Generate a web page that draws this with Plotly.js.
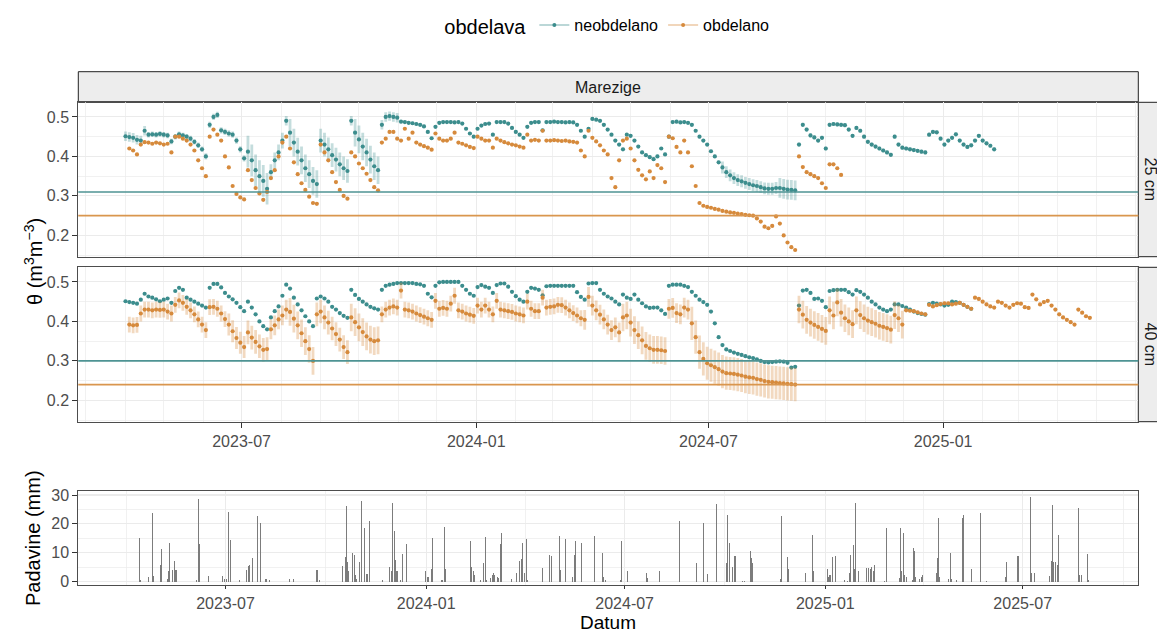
<!DOCTYPE html>
<html>
<head>
<meta charset="utf-8">
<script src="https://cdn.plot.ly/plotly-3.0.1.min.js"></script>
<style>
  html, body { margin: 0; padding: 0; background: #ffffff; }
  #chart { width: 1157px; height: 632px; }
</style>
</head>
<body>
<div id="chart"></div>
<script>
// Soil water content (daily means, every third day) at Marezige, 2023-04-01 onwards
const seriesStart = '2023-04-01';
const stepDays = 3;

const treatments = ['neobdelano', 'obdelano'];
const depths = ['25 cm', '40 cm'];

// 25 cm, neobdelano
const neobdelano25 = [
  .451,.449,.447,.442,.44,.465,.455,.456,.455,.457,
  .455,.453,.438,.45,.456,.453,.45,.445,.437,.428,
  .418,.40,.48,.50,.505,.466,.462,.458,.455,.44,
  .418,.395,.412,.39,.365,.35,.338,.318,.36,.39,
  .41,.44,.49,.46,.435,.412,.39,.37,.355,.338,
  .33,.44,.43,.418,.403,.392,.38,.37,.363,.49,
  .46,.443,.425,.41,.392,.375,.365,.48,.50,.502,
  .50,.498,.488,.487,.485,.484,.482,.48,.476,.462,
  .446,.475,.485,.487,.487,.487,.486,.487,.483,.47,
  .458,.45,.47,.478,.482,.483,.455,.487,.487,.487,
  .483,.472,.462,.455,.447,.475,.485,.487,.487,.466,
  .487,.487,.488,.487,.487,.486,.487,.486,.48,.465,
  .45,.47,.495,.493,.49,.48,.468,.455,.44,.43,
  .418,.455,.452,.44,.425,.41,.403,.398,.393,.40,
  .42,.405,.45,.487,.488,.486,.487,.485,.48,.465,
  .45,.44,.43,.413,.40,.385,.372,.36,.352,.345,
  .34,.337,.333,.33,.327,.325,.322,.319,.318,.318,
  .32,.32,.318,.316,.315,.314,.43,.48,.468,.453,
  .448,.44,.447,.42,.48,.482,.481,.48,.479,.468,
  .452,.472,.465,.45,.437,.43,.425,.42,.415,.41,
  .404,.45,.43,.422,.42,.418,.416,.414,.412,.41,
  .455,.462,.461,.445,.43,.44,.447,.456,.44,.43,
  .424,.428,.44,.452,.44,.433,.427,.418
];
const neobdelano25Err = [
  .012,.012,.012,.012,.012,.012,.007,.007,.007,.007,
  .007,.007,.007,.007,.007,.007,.007,.007,.007,.007,
  .007,.008,.008,.008,.008,.008,.008,.008,.008,.008,
  .008,.008,.04,.04,.04,.04,.04,.04,.02,.02,
  .02,.02,.012,.035,.035,.035,.035,.035,.035,.035,
  .035,.03,.03,.03,.03,.03,.03,.03,.03,.012,
  .035,.035,.035,.035,.035,.035,.035,.012,.012,.012,
  .012,.012,.004,.004,.004,.004,.004,.004,.004,.004,
  .004,.004,.004,.004,.004,.004,.004,.004,.004,.004,
  .004,.004,.004,.004,.004,.004,.004,.004,.004,.004,
  .004,.004,.004,.004,.004,.004,.004,.004,.004,.004,
  .004,.004,.004,.004,.004,.004,.004,.004,.004,.004,
  .004,.004,.004,.004,.004,.004,.004,.004,.004,.004,
  .004,.004,.004,.004,.004,.004,.004,.004,.004,.004,
  .004,.004,.004,.004,.004,.004,.004,.004,.004,.004,
  .004,.004,.004,.004,.004,.004,.015,.015,.015,.015,
  .015,.015,.015,.015,.015,.015,.015,.015,.015,.015,
  .015,.025,.025,.025,.025,.025,.005,.005,.005,.005,
  .005,.005,.005,.005,.005,.005,.005,.005,.005,.005,
  .005,.005,.005,.005,.005,.005,.005,.005,.005,.005,
  .005,.005,.005,.005,.005,.005,.005,.005,.005,.005,
  .005,.005,.005,.005,.005,.005,.005,.005,.005,.005,
  .005,.005,.005,.005,.005,.005,.005,.005
];

// 25 cm, obdelano
const obdelano25 = [
  null,.42,.415,.405,.43,.436,.435,.432,.435,.433,
  .43,.432,.41,.45,.45,.445,.44,.43,.415,.39,
  .37,.35,.45,.468,.455,.44,.40,.372,.325,.305,
  .296,.291,.365,.34,.32,.306,.29,.31,.345,.365,
  .40,.435,.45,.42,.385,.355,.332,.315,.298,.282,
  .28,.43,.41,.39,.36,.335,.315,.30,.293,.41,
  .40,.382,.37,.356,.34,.322,.314,.435,.445,.462,
  .462,.445,.44,.47,.445,.46,.435,.43,.426,.422,
  .417,.458,.445,.44,.44,.445,.46,.435,.432,.428,
  .424,.421,.45,.445,.44,.44,.422,.445,.44,.436,
  .433,.43,.428,.425,.422,.455,.44,.442,.44,.465,
  .44,.44,.441,.44,.439,.44,.438,.437,.435,.415,
  .40,.465,.447,.438,.428,.415,.405,.345,.322,.39,
  .44,.445,.42,.39,.366,.352,.342,.362,.345,.378,
  .37,.335,.45,.446,.424,.41,.44,.41,.375,.325,
  .282,.275,.272,.27,.267,.265,.262,.26,.258,.257,
  .255,.254,.252,.251,.25,.243,.235,.222,.218,.224,
  .248,.23,.20,.182,.17,.163,.40,.373,.36,.355,
  .35,.345,.332,.32,.38,.38,.37,.353
];

// 40 cm, neobdelano
const neobdelano40 = [
  .451,.449,.447,.445,.455,.47,.463,.46,.456,.451,
  .455,.458,.447,.477,.485,.48,.46,.455,.45,.445,
  .44,.435,.485,.495,.495,.486,.472,.463,.456,.447,
  .436,.426,.45,.435,.418,.40,.388,.38,.41,.426,
  .438,.465,.493,.483,.46,.443,.428,.413,.40,.388,
  .458,.463,.458,.45,.437,.43,.421,.414,.409,.48,
  .467,.457,.45,.443,.437,.433,.43,.48,.49,.493,
  .495,.497,.497,.497,.497,.497,.495,.494,.49,.47,
  .461,.49,.499,.50,.50,.50,.50,.50,.49,.48,
  .47,.465,.487,.492,.488,.485,.472,.492,.496,.496,
  .488,.475,.464,.455,.45,.475,.485,.483,.48,.466,
  .489,.49,.49,.49,.49,.49,.49,.49,.474,.462,
  .455,.496,.497,.497,.48,.47,.463,.458,.45,.443,
  .468,.46,.457,.468,.455,.446,.438,.434,.435,.435,
  .428,.419,.49,.493,.493,.493,.49,.487,.475,.465,
  .455,.449,.442,.425,.395,.36,.34,.329,.325,.321,
  .318,.315,.312,.309,.307,.304,.30,.297,.296,.297,
  .298,.299,.298,.295,.283,.285,.44,.478,.48,.472,
  .457,.458,.452,.436,.477,.479,.48,.48,.48,.474,
  .468,.479,.475,.468,.46,.45,.443,.435,.43,.426,
  .43,.443,.443,.439,.435,.43,.425,.421,.419,.417,
  .444,.447,.445,.443,.44,.442,.45,.449,.447,.442,
  .437,.432
];

// 40 cm, obdelano
const obdelano40 = [
  null,.392,.39,.391,.42,.43,.43,.428,.43,.429,
  .43,.425,.42,.442,.453,.447,.437,.428,.418,.405,
  .392,.378,.436,.437,.432,.42,.406,.392,.375,.358,
  .346,.335,.372,.359,.348,.337,.328,.33,.38,.39,
  .405,.415,.43,.424,.407,.39,.37,.35,.33,.30,
  .418,.425,.41,.397,.382,.368,.354,.335,.322,.41,
  .398,.385,.373,.362,.354,.35,.352,.418,.43,.435,
  .438,.435,.478,.43,.428,.425,.42,.416,.412,.408,
  .404,.452,.432,.434,.432,.445,.465,.428,.425,.42,
  .417,.414,.44,.43,.44,.43,.418,.452,.43,.428,
  .426,.424,.42,.418,.415,.45,.432,.426,.426,.46,
  .435,.437,.438,.442,.441,.435,.428,.421,.415,.408,
  .404,.462,.44,.428,.417,.405,.392,.378,.385,.372,
  .41,.415,.397,.378,.365,.352,.338,.332,.328,.328,
  .327,.325,.432,.434,.421,.418,.435,.43,.395,.36,
  .322,.305,.294,.289,.284,.279,.273,.269,.268,.267,
  .265,.263,.26,.258,.257,.254,.252,.249,.247,.246,
  .245,.244,.243,.242,.241,.24,.43,.417,.404,.397,
  .391,.386,.381,.376,.428,.415,.448,.422,.408,.40,
  .393,.428,.416,.408,.402,.398,.394,.389,.386,.383,
  .379,.416,.408,.392,.428,.427,.426,.423,.42,.418,
  .442,.438,.441,.444,.446,.446,.443,.445,.447,.442,
  .437,.432,.46,.457,.45,.443,.438,.435,.45,.447,
  .44,.435,.442,.446,.445,.436,.434,.468,.456,.443,
  .449,.452,.44,.43,.418,.41,.404,.398,.392,.43,
  .422,.413,.409
];
const obdelano40Err = [
  0,.02,.02,.02,.02,.02,.02,.02,.02,.02,
  .02,.02,.02,.02,.02,.02,.02,.02,.02,.02,
  .02,.02,.02,.02,.02,.02,.02,.028,.028,.028,
  .028,.028,.03,.03,.03,.03,.03,.03,.025,.025,
  .025,.025,.025,.035,.035,.035,.035,.035,.035,.035,
  .03,.03,.03,.03,.03,.03,.03,.03,.03,.035,
  .035,.035,.035,.035,.035,.035,.035,.02,.02,.02,
  .02,.02,.02,.02,.02,.02,.02,.02,.02,.02,
  .02,.02,.02,.02,.02,.02,.02,.02,.02,.02,
  .02,.02,.02,.02,.02,.02,.02,.02,.02,.02,
  .02,.02,.02,.02,.02,.02,.02,.02,.02,.02,
  .02,.02,.02,.02,.02,.02,.02,.02,.02,.02,
  .025,.025,.025,.025,.025,.025,.025,.025,.025,.025,
  .035,.035,.035,.035,.035,.035,.035,.035,.035,.035,
  .035,.035,.025,.025,.025,.025,.025,.025,.042,.042,
  .042,.042,.042,.042,.042,.042,.042,.042,.042,.042,
  .042,.042,.042,.042,.042,.042,.042,.042,.042,.042,
  .042,.042,.042,.042,.042,.042,.035,.035,.035,.035,
  .035,.035,.035,.035,.035,.035,.035,.035,.035,.035,
  .035,.035,.035,.035,.035,.035,.035,.035,.035,.035,
  .035,.035,.035,.035,.004,.004,.004,.004,.004,.004,
  .004,.004,.004,.004,.004,.004,.004,.004,.004,.004,
  .004,.004,.004,.004,.004,.004,.004,.004,.004,.004,
  .004,.004,.004,.004,.004,.004,.004,.004,.004,.004,
  .004,.004,.004,.004,.004,.004,.004,.004,.004,.004,
  .004,.004,.004
];

// Threshold lines per depth: [25 cm, 40 cm]
const thresholdNeobdelano = [0.31, 0.30];
const thresholdObdelano = [0.25, 0.24];

// Daily precipitation (mm)
const precipDates = [
  '2023-04-13','2023-04-14','2023-04-21','2023-04-25','2023-04-26','2023-05-02','2023-05-03','2023-05-09','2023-05-10','2023-05-11',
  '2023-05-12','2023-05-13','2023-05-15','2023-05-16','2023-05-17','2023-06-04','2023-06-06','2023-06-07','2023-06-15','2023-06-28',
  '2023-06-30','2023-07-02','2023-07-04','2023-07-06','2023-07-14','2023-07-20','2023-07-22','2023-07-23','2023-07-26','2023-07-30',
  '2023-08-02','2023-08-07','2023-08-08','2023-08-10','2023-08-29','2023-09-01','2023-09-22','2023-09-23','2023-09-25','2023-10-16',
  '2023-10-19','2023-10-20','2023-10-21','2023-10-22','2023-10-25','2023-10-27','2023-10-28','2023-10-29','2023-11-01','2023-11-03',
  '2023-11-05','2023-11-07','2023-11-08','2023-11-10','2023-11-22','2023-11-28','2023-11-30','2023-12-01','2023-12-03','2023-12-04',
  '2023-12-05','2023-12-06','2023-12-08','2023-12-10','2023-12-14','2023-12-31','2024-01-02','2024-01-03','2024-01-06','2024-01-07',
  '2024-01-15','2024-01-16','2024-01-18','2024-01-19','2024-02-11','2024-02-12','2024-02-13','2024-02-14','2024-02-20','2024-02-23',
  '2024-02-24','2024-02-25','2024-02-29','2024-03-02','2024-03-03','2024-03-04','2024-03-06','2024-03-07','2024-03-09','2024-03-10',
  '2024-03-19','2024-03-24','2024-03-27','2024-03-28','2024-03-29','2024-03-31','2024-04-02','2024-04-03','2024-04-17','2024-04-23',
  '2024-04-25','2024-05-02','2024-05-03','2024-05-08','2024-05-14','2024-05-16','2024-05-17','2024-05-22','2024-06-03','2024-06-11',
  '2024-06-12','2024-06-13','2024-06-27','2024-06-28','2024-07-04','2024-07-21','2024-07-22','2024-08-02','2024-08-20','2024-09-05',
  '2024-09-09','2024-09-11','2024-09-15','2024-09-23','2024-10-02','2024-10-03','2024-10-05','2024-10-08','2024-10-10','2024-10-11',
  '2024-10-17','2024-10-19','2024-10-24','2024-10-25','2024-10-26','2024-11-21','2024-11-22','2024-11-27','2024-11-28','2024-12-14',
  '2024-12-20','2024-12-21','2025-01-03','2025-01-04','2025-01-05','2025-01-06','2025-01-08','2025-01-10','2025-01-19','2025-01-21',
  '2025-01-23','2025-01-24','2025-01-27','2025-01-28','2025-01-29','2025-01-31','2025-02-08','2025-02-10','2025-02-11','2025-02-12',
  '2025-02-14','2025-02-15','2025-02-24','2025-02-26','2025-03-10','2025-03-11','2025-03-12','2025-03-14','2025-03-15','2025-03-16',
  '2025-03-22','2025-03-23','2025-03-24','2025-03-25','2025-03-28','2025-03-30','2025-03-31','2025-04-13','2025-04-14','2025-04-15',
  '2025-04-16','2025-04-18','2025-04-24','2025-04-26','2025-04-27','2025-05-01','2025-05-07','2025-05-08','2025-05-15','2025-05-23',
  '2025-05-29','2025-06-15','2025-06-16','2025-06-26','2025-06-27','2025-07-08','2025-07-09','2025-07-12','2025-07-26','2025-07-27',
  '2025-07-28','2025-07-29','2025-07-31','2025-08-02','2025-08-03','2025-08-21','2025-08-22','2025-08-24','2025-08-29','2025-08-30'
];
const precipMm = [
  15.2,0.5,1.7,23.7,2,5.8,11.2,1,3.5,13.3,
  4,4,7,4,4,0.5,28.8,13,2,2,
  1,1,24.2,14.4,0.5,4,5.4,5.8,8.3,22.8,
  20.4,0.8,0.8,0.5,1,1,4,4,0.5,5.4,
  8.4,26.3,6.7,3.8,10,9.2,2.3,0.8,6.7,27.9,
  18.5,2.5,2.5,21.1,0.5,5.2,3.8,27.1,17.7,7.5,
  3.5,3.5,0.5,9.6,13,3.8,1.7,1.7,4.3,15.1,
  0.5,0.5,19,4.3,14.1,5,3.8,2.3,0.5,6.6,
  15.6,0.5,1.2,2.3,2.9,2.3,1.7,1.2,12.9,16.7,
  0.9,3.1,7.3,7.8,13.3,2.9,14.9,0.5,4.6,9.2,
  8.7,15.8,4,14.7,1.5,9.2,14.2,13.3,15.8,9.8,
  1.7,0.5,0.5,14.1,3.5,2.9,1.2,3.5,21,6.6,
  6.6,20.4,2.7,26.8,6.3,23.1,13.3,5.2,8.7,8.7,
  0.3,0.3,10.7,8.1,6.3,0.8,22.7,8.4,4.3,3.1,
  16,3.5,4.3,1.7,2.3,2.3,8.4,8.7,0.5,0.3,
  3.1,9.1,12.6,4.3,27.3,3.5,4.6,4.6,4.3,5.2,
  3.5,5.8,0.2,18.5,1.2,18.5,3.5,17,2.3,1.5,
  0.5,11.5,10.7,1.5,0.8,1.7,2.3,3.1,8.1,21.9,
  1.7,0.5,0.8,10,0.8,0.5,21.9,23.1,4.3,23.9,
  0.3,1.7,6.9,8.7,8.7,29.2,2.9,2.9,2,7.3,
  26.4,6.9,6.9,5.8,16.2,25.4,2.3,2.3,9.6,0.5
];

const tealColor = '#3C8D8D';
const orangeColor = '#D68A3C';
const tealFaint = 'rgba(60,141,141,0.30)';
const orangeFaint = 'rgba(214,138,60,0.32)';
const fontFamily = 'Liberation Sans, Arial, Helvetica, sans-serif';

function seriesDates(n) {
  const t0 = Date.parse(seriesStart);
  const out = [];
  for (let i = 0; i < n; i++) {
    out.push(new Date(t0 + i * stepDays * 86400000).toISOString().slice(0, 10));
  }
  return out;
}

function pointTrace(values, errors, color, faint, xa, ya, name) {
  const t = {
    type: 'scatter', mode: 'markers', name: name, showlegend: false,
    x: seriesDates(values.length), y: values,
    xaxis: xa, yaxis: ya,
    marker: { color: color, size: 4.2, line: { width: 0 } },
    hoverinfo: 'skip'
  };
  if (errors) {
    t.error_y = { type: 'data', array: errors, visible: true, color: faint, thickness: 2.8, width: 0 };
  }
  return t;
}

const traces = [
  pointTrace(neobdelano25, neobdelano25Err, tealColor, tealFaint, 'x', 'y', treatments[0]),
  pointTrace(obdelano25, null, orangeColor, orangeFaint, 'x', 'y', treatments[1]),
  pointTrace(neobdelano40, null, tealColor, tealFaint, 'x2', 'y2', treatments[0]),
  pointTrace(obdelano40, obdelano40Err, orangeColor, orangeFaint, 'x2', 'y2', treatments[1]),
  {
    type: 'bar', x: precipDates, y: precipMm, xaxis: 'x3', yaxis: 'y3',
    width: 0.9 * 86400000, showlegend: false, hoverinfo: 'skip',
    marker: { color: '#7C7C7C', line: { width: 0 } }
  },
  // legend keys
  { type: 'scatter', mode: 'lines+markers', name: treatments[0], x: [null], y: [null], xaxis: 'x', yaxis: 'y',
    line: { color: 'rgba(60,141,141,0.35)', width: 2 }, marker: { color: tealColor, size: 4 } },
  { type: 'scatter', mode: 'lines+markers', name: treatments[1], x: [null], y: [null], xaxis: 'x', yaxis: 'y',
    line: { color: 'rgba(214,138,60,0.35)', width: 2 }, marker: { color: orangeColor, size: 4 } }
];

// Panel geometry in pixels
const W = 1157, H = 632;
const left = 78.3, right = 1138.3;
const panels = [[102.3, 256.7], [267.3, 421.7], [491, 585.3]];
const fx = v => v / W;
const fy = v => 1 - v / H;

const gridCol = '#EBEBEB';
const borderCol = '#4D4D4D';

function xAxis(anchor, range, minorStep, labels, tickLength) {
  return {
    type: 'date', anchor: anchor, domain: [fx(left), fx(right)], range: range,
    tick0: '2023-01-01', dtick: 'M6', tickformat: '%Y-%m',
    showticklabels: labels, ticks: labels ? 'outside' : '', ticklen: tickLength, tickwidth: 1, tickcolor: '#333333',
    tickfont: { size: 16, color: '#4D4D4D', family: fontFamily },
    showgrid: true, gridcolor: gridCol, gridwidth: 1.1,
    minor: { tick0: '2023-01-01', dtick: minorStep, showgrid: true, gridcolor: gridCol, gridwidth: 0.7, ticks: '' },
    showline: true, mirror: true, linecolor: borderCol, linewidth: 1, zeroline: false, fixedrange: true
  };
}

function yAxis(anchor, panel, range, dtick, minorStep, fmt) {
  return {
    anchor: anchor, domain: [fy(panel[1]), fy(panel[0])], range: range,
    tick0: 0, dtick: dtick, tickformat: fmt,
    ticks: 'outside', ticklen: 5, tickwidth: 1, tickcolor: '#333333',
    tickfont: { size: 16, color: '#4D4D4D', family: fontFamily },
    showgrid: true, gridcolor: gridCol, gridwidth: 1.1,
    minor: { tick0: 0, dtick: minorStep, showgrid: true, gridcolor: gridCol, gridwidth: 0.7, ticks: '' },
    showline: true, mirror: true, linecolor: borderCol, linewidth: 1, zeroline: false, fixedrange: true
  };
}

const soilRange = ['2023-02-23', '2025-06-03'];
const rainRange = ['2023-02-16', '2025-10-15'];

const shapes = [];
// facet strips
shapes.push({ type: 'rect', xref: 'paper', yref: 'paper', x0: fx(left), x1: fx(right), y0: fy(panels[0][0]), y1: fy(71.7),
  fillcolor: '#EDEDED', line: { color: '#222222', width: 1 }, layer: 'below' });
[0, 1].forEach(k => {
  shapes.push({ type: 'rect', xref: 'paper', yref: 'paper', x0: fx(right), x1: fx(1165), y0: fy(panels[k][1]), y1: fy(panels[k][0]),
    fillcolor: '#EDEDED', line: { color: '#222222', width: 1 }, layer: 'below' });
});
// threshold lines
[['y', 0], ['y2', 1]].forEach(([ya, k]) => {
  shapes.push({ type: 'line', xref: 'x domain', yref: ya, x0: 0, x1: 1, y0: thresholdNeobdelano[k], y1: thresholdNeobdelano[k],
    line: { color: '#4E9393', width: 1.6 } });
  shapes.push({ type: 'line', xref: 'x domain', yref: ya, x0: 0, x1: 1, y0: thresholdObdelano[k], y1: thresholdObdelano[k],
    line: { color: '#D9964E', width: 1.6 } });
});

const annotations = [
  { text: 'Marezige', xref: 'paper', yref: 'paper', x: fx((left + right) / 2), y: fy(87), showarrow: false,
    font: { size: 16, color: '#1A1A1A', family: fontFamily }, xanchor: 'center', yanchor: 'middle' },
  { text: depths[0], xref: 'paper', yref: 'paper', x: fx(1150), y: fy((panels[0][0] + panels[0][1]) / 2), showarrow: false,
    textangle: 90, font: { size: 16, color: '#1A1A1A', family: fontFamily }, xanchor: 'center', yanchor: 'middle' },
  { text: depths[1], xref: 'paper', yref: 'paper', x: fx(1150), y: fy((panels[1][0] + panels[1][1]) / 2), showarrow: false,
    textangle: 90, font: { size: 16, color: '#1A1A1A', family: fontFamily }, xanchor: 'center', yanchor: 'middle' },
  { text: 'θ (m<sup>3</sup>m<sup>−3</sup>)', xref: 'paper', yref: 'paper', x: fx(33), y: fy(262), showarrow: false,
    textangle: -90, font: { size: 20, color: '#000000', family: fontFamily }, xanchor: 'center', yanchor: 'middle' },
  { text: 'Padavine (mm)', xref: 'paper', yref: 'paper', x: fx(33), y: fy(538), showarrow: false,
    textangle: -90, font: { size: 20, color: '#000000', family: fontFamily }, xanchor: 'center', yanchor: 'middle' },
  { text: 'Datum', xref: 'paper', yref: 'paper', x: fx((left + right) / 2), y: fy(622), showarrow: false,
    font: { size: 19, color: '#000000', family: fontFamily }, xanchor: 'center', yanchor: 'middle' }
];

const layout = {
  width: W, height: H,
  margin: { l: 0, r: 0, t: 0, b: 0 },
  paper_bgcolor: '#FFFFFF', plot_bgcolor: '#FFFFFF',
  font: { family: fontFamily, color: '#000000' },
  xaxis: xAxis('y', soilRange, 'M1', false, 5),
  xaxis2: Object.assign(xAxis('y2', soilRange, 'M1', true, 5), { matches: 'x' }),
  xaxis3: xAxis('y3', rainRange, 'M3', true, 3),
  yaxis: yAxis('x', panels[0], [0.146, 0.537], 0.1, 0.05, '.1f'),
  yaxis2: yAxis('x2', panels[1], [0.146, 0.537], 0.1, 0.05, '.1f'),
  yaxis3: yAxis('x3', panels[2], [-1.3, 31.4], 10, 5, 'd'),
  bargap: 0,
  showlegend: true,
  legend: {
    orientation: 'h', x: fx((left + right) / 2), xanchor: 'center', y: fy(26), yanchor: 'middle',
    title: { text: 'obdelava', side: 'left', font: { size: 20, color: '#000000', family: fontFamily } },
    font: { size: 16, color: '#000000', family: fontFamily },
    itemwidth: 30, bgcolor: 'rgba(0,0,0,0)', traceorder: 'normal'
  },
  shapes: shapes,
  annotations: annotations
};

Plotly.newPlot('chart', traces, layout, { displayModeBar: false, staticPlot: true });
</script>
</body>
</html>
